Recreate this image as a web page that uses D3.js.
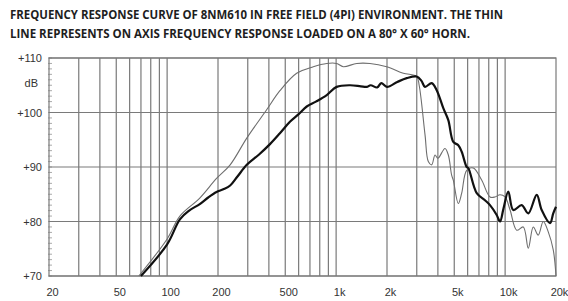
<!DOCTYPE html>
<html><head><meta charset="utf-8">
<script src="https://cdn.jsdelivr.net/npm/d3@7"></script>
<style>html,body{margin:0;padding:0;background:#fff;}svg{display:block;}</style>
</head><body>
<svg id="c" width="568" height="301"></svg>
<script>
const titleLines = [
  "FREQUENCY RESPONSE CURVE OF 8NM610 IN FREE FIELD (4PI) ENVIRONMENT. THE THIN",
  "LINE REPRESENTS ON AXIS FREQUENCY RESPONSE LOADED ON A 80° X 60° HORN."
];
const xTickValues = [20, 50, 100, 200, 500, 1000, 2000, 5000, 10000, 20000];
const xTickLabels = ["20", "50", "100", "200", "500", "1k", "2k", "5k", "10k", "20k"];
const xGridValues = [30,40,50,60,70,80,90,100,200,300,400,500,600,700,800,900,1000,2000,3000,4000,5000,6000,7000,8000,9000,10000];
const yTickValues = [70, 80, 90, 100, 110];
const yTickLabels = ["+70", "+80", "+90", "+100", "+110"];
const yUnit = "dB";

// Thick line: free field (4pi)
const freeFreq = [70,100,119,135,156,175,196,215,236,260,296,350,406,465,533,600,670,760,880,1007,1208,1400,1517,1600,1750,1850,2000,2300,2616,2997,3200,3358,3677,3936,4307,4611,4935,5283,5534,5924,6055,6792,7601,8138,8915,9327,9780,10440,11172,12530,13711,15380,16460,18420,19265,20000];
const freeDb   = [70,75.8,80.4,82,83.2,84.4,85.4,85.9,86.6,88.2,90.4,92.3,94.2,96.2,98.3,99.7,101.1,102,103.2,104.7,105,104.8,104.7,105,104.6,105.4,104.7,105.6,106.3,106.6,105.8,104.7,105.4,104.1,100.8,98.6,94.6,94,92.8,90,89.8,85.2,83.9,83,81.2,80,82.4,85.5,82.1,83,81.5,84.9,82.1,79.7,81.5,82.7];
// Thin line: on axis, 80x60 horn
const hornFreq = [68,100,119,156,196,236,296,388,465,584,733,880,1007,1103,1324,1586,1992,2499,2997,3100,3358,3512,3677,3848,4000,4406,4611,4826,4935,5283,5534,5924,6484,7262,8138,8707,9327,9990,10700,11708,12810,13711,14675,15706,16812,18000,19265,20000];
const hornDb   = [70,76.8,81,84.3,87.9,90.4,95.3,100.5,104,107.2,108.4,109,109,108.4,109,109,108.4,107.2,106.6,105,95.9,91,90.4,92.2,91.6,93.4,92.2,88.5,87.6,83.3,85.2,89.4,89.8,87.6,84.5,84.5,84.9,84.5,82.1,78.4,79,75.1,79,77.5,80,78.1,74.8,70];

const svg = d3.select("#c");
const L = 49, R = 556, T = 58, B = 276;
const x = d3.scaleLog().domain([20, 20000]).range([L, R]);
const y = d3.scaleLinear().domain([70, 110]).range([B, T]);

// title
svg.selectAll("text.title").data(titleLines).enter().append("text")
  .attr("class","title")
  .attr("x", 10).attr("y", (d,i)=> 19 + i*18.5)
  .attr("font-family","'Open Sans', sans-serif").attr("font-weight","bold")
  .attr("font-size", 12).attr("fill","#1e1e1e")
  .attr("textLength", (d,i)=> i===0 ? 493 : 460)
  .attr("lengthAdjust","spacingAndGlyphs")
  .text(d=>d);

const g = svg.append("g");
// minor y ticks
g.selectAll("line.minor").data(d3.range(70, 111, 1)).enter().append("line")
  .attr("x1", L-1).attr("x2", L+3).attr("y1", d=>y(d)).attr("y2", d=>y(d))
  .attr("stroke","#aaa").attr("stroke-width",1);
// vertical grid
g.selectAll("line.vg").data(xGridValues).enter().append("line")
  .attr("x1", d=>x(d)).attr("x2", d=>x(d)).attr("y1", T).attr("y2", B)
  .attr("stroke","#7a7a7a").attr("stroke-width",1.2);
// horizontal grid
g.selectAll("line.hg").data(yTickValues).enter().append("line")
  .attr("x1", L).attr("x2", R).attr("y1", d=>y(d)).attr("y2", d=>y(d))
  .attr("stroke","#7a7a7a").attr("stroke-width",1.2);
// border
g.append("rect").attr("x", L).attr("y", T).attr("width", R-L).attr("height", B-T)
  .attr("fill","none").attr("stroke","#7a7a7a").attr("stroke-width",1.2);

// axes labels
const yAxis = d3.axisLeft(y).tickValues(yTickValues).tickFormat((d,i)=>yTickLabels[i]).tickSize(0).tickPadding(7);
const ya = svg.append("g").attr("transform",`translate(${L},0)`).call(yAxis);
ya.select(".domain").remove();
ya.selectAll("text").attr("font-family","'Liberation Sans', Arial, sans-serif").attr("font-size",11).attr("fill","#333");
svg.append("text").attr("x", 38).attr("y", 87).attr("text-anchor","end")
  .attr("font-family","'Liberation Sans', Arial, sans-serif").attr("font-size",11).attr("fill","#333").text(yUnit);

const xAxis = d3.axisBottom(x).tickValues(xTickValues).tickFormat((d,i)=>xTickLabels[i]).tickSize(0).tickPadding(12);
const xa = svg.append("g").attr("transform",`translate(3,${B})`).call(xAxis);
xa.select(".domain").remove();
xa.selectAll("text").attr("font-family","'Liberation Sans', Arial, sans-serif").attr("font-size",11).attr("fill","#333");

// curves
const line = d3.line().x(d=>x(d[0])).y(d=>y(d[1])).curve(d3.curveCatmullRom.alpha(0.5));
svg.append("path").datum(hornFreq.map((f,i)=>[f,hornDb[i]]))
  .attr("d", line).attr("fill","none").attr("stroke","#6e6e6e").attr("stroke-width",1.1);
svg.append("path").datum(freeFreq.map((f,i)=>[f,freeDb[i]]))
  .attr("d", line).attr("fill","none").attr("stroke","#111").attr("stroke-width",2.2);
</script>
</body></html>
